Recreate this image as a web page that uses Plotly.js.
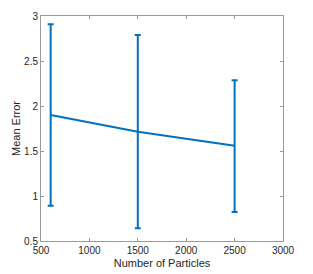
<!DOCTYPE html>
<html><head><meta charset="utf-8">
<script src="https://cdn.plot.ly/plotly-3.0.1.min.js"></script>
<style>html,body{margin:0;padding:0;background:#fff}#c{width:313px;height:274px}</style>
</head><body><div id="c"></div>
<script>
var particles = [600, 1500, 2500];
var meanError = [1.90, 1.714, 1.559];
var upperBound = [2.908, 2.789, 2.285];
var lowerBound = [0.892, 0.641, 0.822];
var xTicks = [500, 1000, 1500, 2000, 2500, 3000];
var yTicks = [0.5, 1, 1.5, 2, 2.5, 3];

var plus = meanError.map(function(v,i){return upperBound[i]-v;});
var minus = meanError.map(function(v,i){return v-lowerBound[i];});

var trace = {
  x: particles, y: meanError, type: 'scatter', mode: 'lines',
  line: {color: '#0072BD', width: 2},
  error_y: {type: 'data', symmetric: false, array: plus, arrayminus: minus,
    color: '#0072BD', thickness: 2, width: 3}
};
var axisCommon = {
  showgrid: false, zeroline: false, showline: true, linecolor: '#9a9a9a', linewidth: 1,
  mirror: 'ticks', ticks: 'inside', ticklen: 3, tickcolor: '#9a9a9a',
  tickfont: {family: 'Liberation Sans, Arial, sans-serif', size: 10, color: '#262626'}
};
var layout = {
  width: 313, height: 274,
  margin: {l: 41, r: 30, t: 16, b: 33},
  paper_bgcolor: '#fff', plot_bgcolor: '#fff',
  showlegend: false,
  xaxis: Object.assign({}, axisCommon, {range: [500, 3000], tickvals: xTicks,
    title: {text: 'Number of Particles', standoff: 4,
      font: {family: 'Liberation Sans, Arial, sans-serif', size: 11, color: '#262626'}}}),
  yaxis: Object.assign({}, axisCommon, {range: [0.5, 3], tickvals: yTicks,
    title: {text: 'Mean Error', standoff: 1,
      font: {family: 'Liberation Sans, Arial, sans-serif', size: 11, color: '#262626'}}})
};
Plotly.newPlot('c', [trace], layout, {staticPlot: true, displayModeBar: false});
</script></body></html>
